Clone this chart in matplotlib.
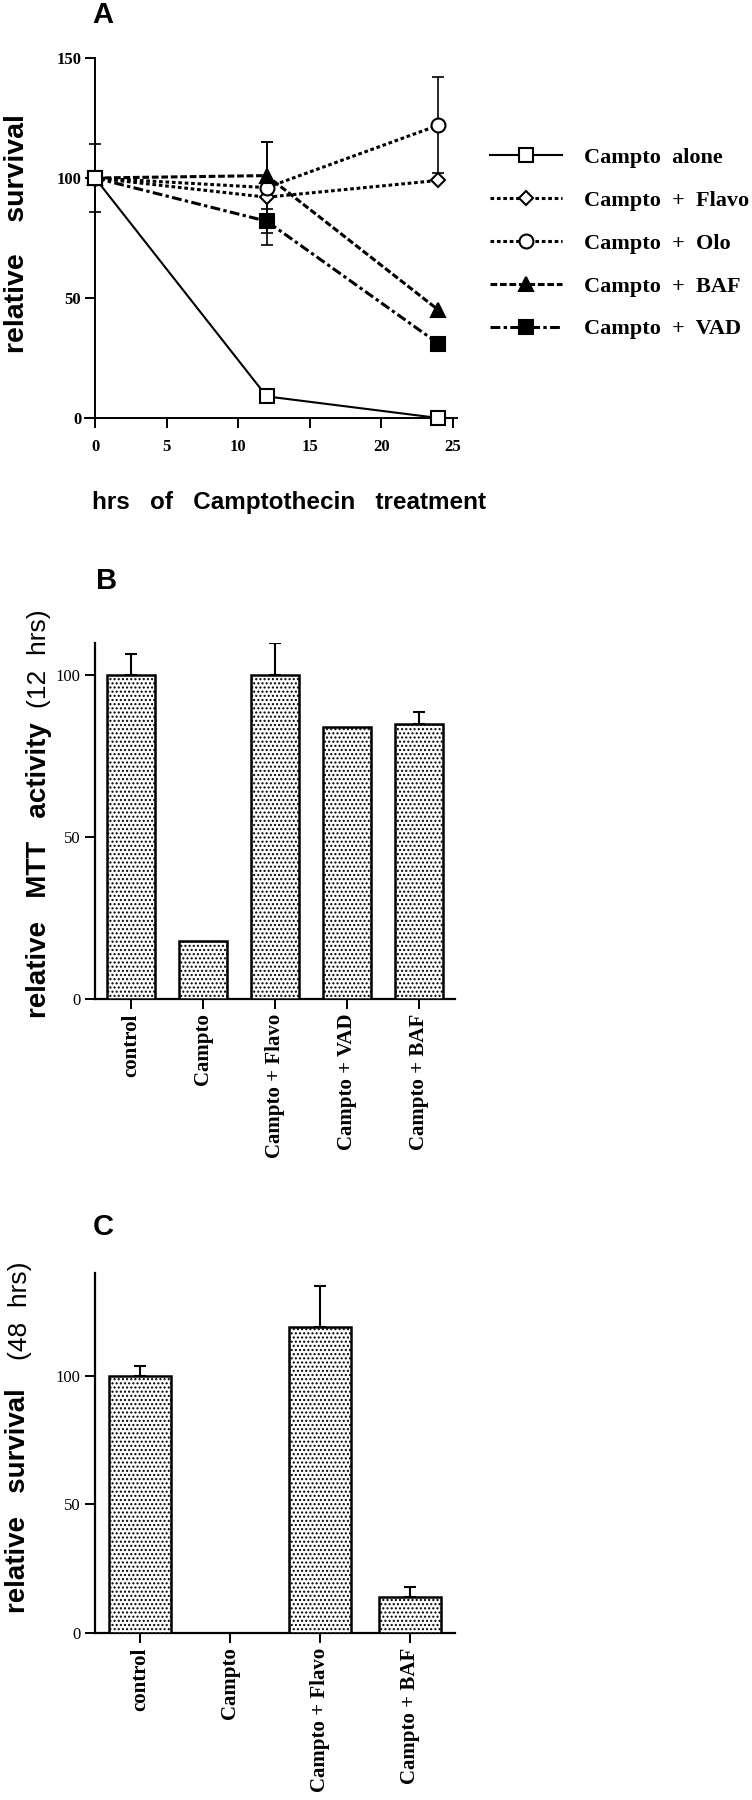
import matplotlib
matplotlib.use('Agg')
import matplotlib.pyplot as plt

# panel A: relative survival vs hrs of camptothecin
hrs = [0, 12, 24]
alone = [100, 9, 0]
flavo = [100, 92, 99]
olo = [100, 96, 122]
baf = [100, 101, 45]
vad = [100, 82, 31]
alone_err = [14, 0, 0]
olo_err = [0, 19, 20]
baf_err = [0, 14, 0]
vad_err = [0, 10, 0]

# panel B: MTT activity (12 hrs)
mtt_labels = ['control', 'Campto', 'Campto + Flavo', 'Campto + VAD', 'Campto + BAF']
mtt = [100, 18, 100, 84, 85]
mtt_err = [6.6, 0, 10, 0, 3.7]

# panel C: survival (48 hrs)
surv_labels = ['control', 'Campto', 'Campto + Flavo', 'Campto + BAF']
surv = [100, 0, 119, 14]
surv_err = [4, 0, 16, 4]

W, H = 752, 1800
SANS = 'Liberation Sans'
SERIF = 'Liberation Serif'
plt.rcParams['hatch.linewidth'] = 1.0

def px(x, y):
    return x / W, 1 - y / H

fig = plt.figure(figsize=(W / 100, H / 100), dpi=100)

# ---- A ----
axA = fig.add_axes([85 / W, 1 - 418 / H, 372 / W, 360 / H])
series = [
    (alone, alone_err, 's', 'w', '-', 'Campto  alone', 1.5, 9.5),
    (flavo, None, 'D', 'w', (0, (1.2, 0.9)), 'Campto  +  Flavo', 2.2, 7),
    (olo, olo_err, 'o', 'w', (0, (1.2, 0.9)), 'Campto  +  Olo', 2.2, 10),
    (baf, baf_err, '^', 'k', (0, (2.2, 0.9)), 'Campto  +  BAF', 2.2, 10),
    (vad, vad_err, 's', 'k', (0, (3.2, 1.1, 1.1, 1.1)), 'Campto  +  VAD', 2.2, 9.5),
]
handles = []
for i, (vals, err, mk, fc, ls, lab, lw, ms) in enumerate(series):
    z = 10 if i == 0 else 4 + i
    if err is not None:
        xs = [h for h, e in zip(hrs, err) if e > 0]
        ys = [v for v, e in zip(vals, err) if e > 0]
        es = [e for e in err if e > 0]
        axA.errorbar(xs, ys, yerr=es, fmt='none', ecolor='k', elinewidth=1.2,
                     capsize=4.5, capthick=1.2, zorder=2, clip_on=False)
    ln, = axA.plot(hrs, vals, marker=mk, mfc=fc, mec='k', mew=1.5, ms=ms,
                   color='k', ls=ls, lw=lw, label=lab, zorder=z, clip_on=False,
                   dash_capstyle='butt')
    handles.append(ln)

axA.set_xlim(-0.7, 25.3)
axA.set_ylim(0, 150)
axA.spines['left'].set_position(('data', 0))
for s in ['top', 'right']:
    axA.spines[s].set_visible(False)
for s in ['left', 'bottom']:
    axA.spines[s].set_linewidth(1.4)
axA.set_xticks([0, 5, 10, 15, 20, 25])
axA.set_yticks([0, 50, 100, 150])
axA.tick_params(length=7, width=1.4, pad=3)
for t in axA.get_xticklabels() + axA.get_yticklabels():
    t.set_fontfamily(SERIF)
    t.set_fontweight('bold')
    t.set_fontsize(12)
axA.tick_params(axis='x', pad=8)

fig.legend(handles=handles, loc='center left', bbox_to_anchor=px(490, 243.5),
           frameon=False, borderpad=0, borderaxespad=0, handlelength=3.25,
           handletextpad=1.0, labelspacing=1.0,
           prop={'family': SERIF, 'weight': 'bold', 'size': 16})

fig.text(*px(103, 15), 'A', ha='center', va='center', fontsize=21,
         fontweight='bold', family=SANS)
fig.text(*px(17, 234), 'relative    survival', rotation=90, ha='center',
         va='center', fontsize=20.5, fontweight='bold', family=SANS)
fig.text(*px(92, 502), 'hrs   of   Camptothecin   treatment', ha='left',
         va='center', fontsize=17.5, fontweight='bold', family=SANS)


def bar_panel(rect, labels, vals, errs, ytop):
    ax = fig.add_axes(rect)
    xs = list(range(len(vals)))
    ax.bar(xs, vals, width=0.68, color='w', edgecolor='k', linewidth=1.8,
           hatch='....', zorder=3)
    ex = [x for x, e in zip(xs, errs) if e > 0]
    ey = [v for v, e in zip(vals, errs) if e > 0]
    ee = [e for e in errs if e > 0]
    ax.errorbar(ex, ey, yerr=[[0] * len(ee), ee], fmt='none', ecolor='k',
                elinewidth=1.5, capsize=4, capthick=1.5, zorder=2)
    ax.set_xlim(-0.5, len(vals) - 0.5)
    ax.set_ylim(0, ytop)
    for s in ['top', 'right']:
        ax.spines[s].set_visible(False)
    for s in ['left', 'bottom']:
        ax.spines[s].set_linewidth(1.6)
    ax.set_yticks([0, 50, 100])
    ax.set_xticks(xs)
    ax.set_xticklabels(labels, rotation=90, family=SERIF, fontweight='bold',
                       fontsize=15)
    for t in ax.get_yticklabels():
        t.set_fontfamily(SERIF)
        t.set_fontsize(12)
    ax.tick_params(length=7.5, width=1.4, pad=3)
    return ax


# ---- B ----
bar_panel([95 / W, 1 - 999 / H, 360 / W, 356 / H], mtt_labels, mtt, mtt_err, 110)
fig.text(*px(107, 581), 'B', ha='center', va='center', fontsize=21,
         fontweight='bold', family=SANS)
fig.text(*px(39, 1018), 'relative   MTT   activity', rotation=90,
         rotation_mode='anchor', ha='left', va='center', fontsize=20,
         fontweight='bold', family=SANS)
fig.text(*px(39, 708), '(12  hrs)', rotation=90, rotation_mode='anchor',
         ha='left', va='center', fontsize=19, family=SANS)

# ---- C ----
bar_panel([95 / W, 1 - 1633 / H, 360 / W, 360 / H], surv_labels, surv, surv_err, 140)
fig.text(*px(103, 1227), 'C', ha='center', va='center', fontsize=21,
         fontweight='bold', family=SANS)
fig.text(*px(18, 1613), 'relative   survival', rotation=90,
         rotation_mode='anchor', ha='left', va='center', fontsize=20,
         fontweight='bold', family=SANS)
fig.text(*px(20, 1360), '(48  hrs)', rotation=90, rotation_mode='anchor',
         ha='left', va='center', fontsize=19, family=SANS)

fig.savefig('out.png', dpi=100)
